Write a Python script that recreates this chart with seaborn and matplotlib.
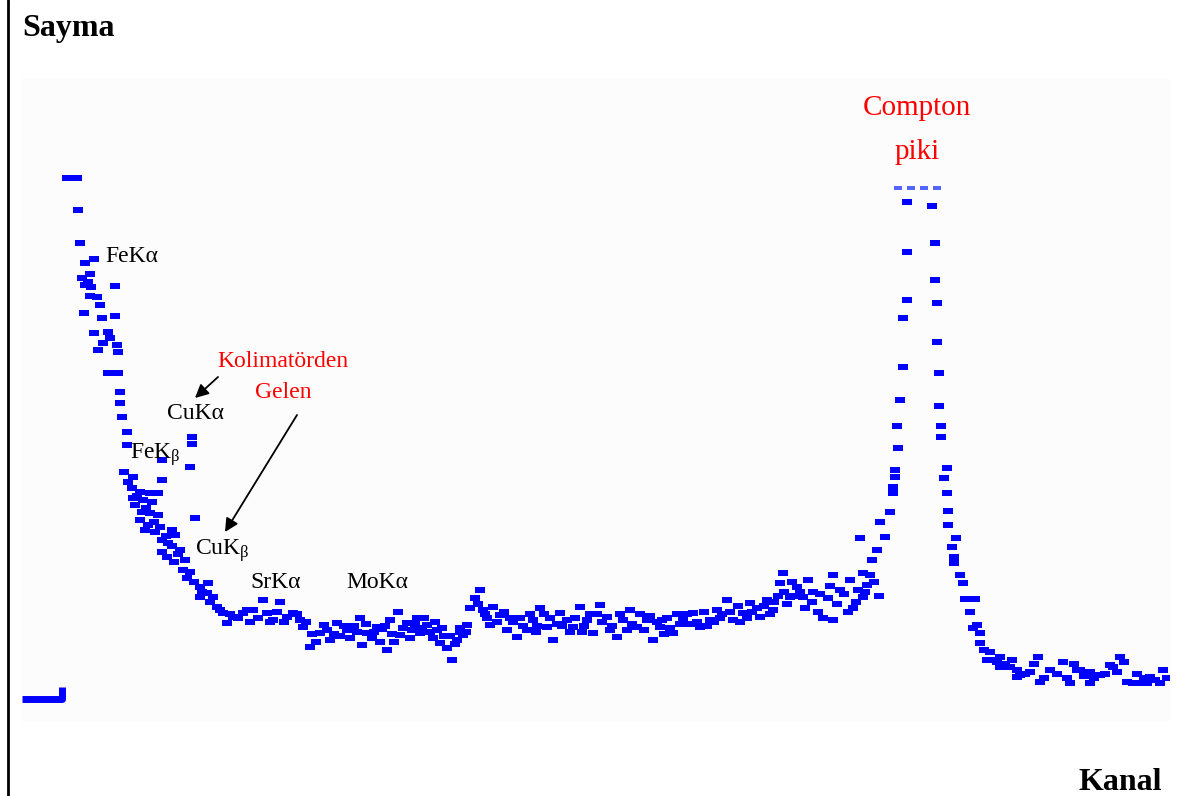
import matplotlib
matplotlib.use("Agg")
import matplotlib.pyplot as plt
from matplotlib.lines import Line2D
from matplotlib.markers import MarkerStyle
import pandas as pd
import seaborn as sns

# spectrum: channel vs count (arbitrary units)
low_channel = [45, 55, 56, 58, 63, 72, 60, 66, 68, 63, 69, 93, 68, 75, 78, 62, 80, 93, 72, 86,
               88, 81, 95, 76, 96, 86, 96, 98, 98, 100, 105, 105, 170, 170, 168, 140, 111, 140, 110, 118,
               128, 136, 111, 121, 130, 113, 120, 128, 136, 118, 126, 123, 133, 150, 153, 140, 146, 173, 140, 145,
               158, 163, 161, 165, 178, 186, 178, 191, 185, 195, 201, 211, 221, 231, 241, 258, 245, 255, 265, 271,
               278, 205, 228, 251,
               102, 106, 115, 124, 132, 138, 144, 150, 156, 152, 168, 172, 180, 188, 198, 208, 216, 225, 236, 248,
               262, 275]
low_count = [544, 544, 512, 479, 459, 463, 444, 440, 448, 437, 435, 436, 426, 425, 417, 409, 404, 406, 389, 390,
             384, 379, 377, 372, 370, 349, 349, 330, 319, 305, 290, 277, 285, 278, 255, 262, 245, 242, 234, 230,
             229, 229, 224, 222, 220, 217, 210, 209, 207, 202, 197, 192, 190, 192, 187, 182, 179, 204, 170, 165,
             172, 162, 152, 144, 135, 139, 125, 125, 129, 115, 109, 105, 109, 112, 122, 120, 109, 110, 105, 109,
             102, 99, 100, 102,
             250, 240, 226, 214, 200, 195, 186, 176, 168, 160, 150, 140, 130, 120, 112, 108, 104, 112, 104, 100,
             100, 108]

mid_channel = [281, 288, 298, 308, 315, 325, 338, 340, 345, 355, 365, 368, 376, 378, 385, 395, 398, 405, 411, 418,
               425, 430, 435, 441, 445, 448, 453, 458, 461, 465, 471, 478, 468, 485, 491, 495, 505, 511, 518, 525,
               531, 538, 545, 551, 558, 565, 571, 578, 585, 595, 601, 608, 615, 625, 631, 638, 645, 651, 661, 671,
               678, 688, 695, 705, 711, 721, 728, 738, 745, 751, 758, 761, 768, 775,
               290, 302, 318, 332, 350, 360, 372, 390, 402, 415, 422, 438, 482, 498, 515, 522, 535, 548, 562, 575,
               590, 605, 618, 635, 642, 655, 668, 682, 692, 700, 716, 725, 735, 748, 756, 765, 772,
               284, 294, 305, 312, 322, 328, 335, 344, 352, 358, 363, 370, 381, 388, 393, 400, 408, 413, 420, 428,
               433, 438, 444, 456, 463, 475, 488, 501, 508, 514, 528, 540, 553, 560, 568, 580, 588, 598, 610, 622,
               628, 640, 648, 658, 665, 675, 685, 698, 708, 718, 730, 742, 752, 762, 770, 778]
mid_count = [95, 75, 89, 82, 99, 92, 104, 77, 89, 95, 72, 102, 110, 87, 99, 104, 89, 97, 84, 79,
             74, 62, 82, 87, 97, 114, 124, 132, 112, 104, 115, 107, 97, 92, 100, 85, 92, 102, 114, 95,
             82, 109, 102, 95, 115, 102, 89, 117, 105, 85, 102, 112, 95, 102, 82, 95, 104, 89, 102, 109,
             95, 102, 112, 122, 102, 109, 119, 105, 122, 112, 139, 149, 125, 135,
             88, 97, 86, 96, 84, 93, 80, 92, 104, 92, 86, 90, 110, 104, 96, 108, 98, 90, 96, 108,
             96, 92, 108, 100, 88, 108, 98, 110, 100, 108, 116, 104, 114, 108, 126, 118, 126,
             100, 80, 92, 88, 96, 84, 90, 98, 90, 80, 96, 88, 94, 84, 98, 94, 90, 100, 94, 86,
             78, 94, 90, 118, 108, 100, 104, 96, 108, 90, 104, 96, 104, 90, 108, 100, 92, 108, 98, 92,
             106, 102, 94, 98, 108, 100, 96, 104, 110, 100, 110, 116, 120, 130, 140, 130]

peak_channel = [781, 786, 791, 783, 796, 801, 811, 806, 811, 818, 828, 831, 836, 841, 845, 841, 848, 838, 850, 855,
                858, 863, 868, 871, 871, 873, 873, 876, 875, 878, 881, 881, 885, 885, 885, 910, 913, 913, 915, 915,
                917, 917, 919, 919, 925, 922, 925, 926, 926, 934, 930, 932, 932, 938, 941, 943, 953, 948, 955, 951,
                958, 958, 965, 971, 978, 978, 988, 995, 995, 998, 1008, 1016, 1018, 1028, 1041, 1048, 1055, 1058, 1068, 1068,
                1078, 1088, 1091, 1098, 1105, 1111, 1118, 1125, 1128, 1138, 1141,
                790, 798, 808, 815, 822, 826, 834, 843, 852, 857,
                962, 968, 975, 983, 990, 1003, 1012, 1022, 1035, 1045, 1052, 1062, 1072, 1083, 1095, 1102, 1115, 1122, 1133, 1145]
peak_count = [125, 142, 130, 114, 110, 104, 102, 124, 147, 132, 142, 114, 132, 125, 137, 149, 147, 184, 162, 172,
              200, 185, 210, 229, 235, 245, 252, 274, 296, 322, 355, 404, 422, 470, 520, 516, 479, 442, 419, 380,
              349, 316, 296, 285, 254, 244, 229, 211, 197, 184, 175, 165, 159, 147, 139, 123, 123, 110, 97, 94,
              89, 79, 62, 62, 65, 55, 55, 52, 45, 47, 50, 65, 40, 52, 60, 39, 52, 52, 39, 50,
              47, 57, 55, 65, 40, 39, 39, 39, 45, 39, 52,
              120, 128, 136, 118, 128, 110, 120, 130, 140, 126,
              72, 70, 60, 58, 62, 48, 58, 44, 48, 44, 58, 46, 44, 48, 50, 60, 48, 44, 42, 44]

# clipped top of the Compton peak
clip_channel = [876, 889, 902, 915]
clip_count = [534, 534, 534, 534]

# first channels (below threshold)
step_channel = [0, 40, 40]
step_count = [23, 23, 35]

peak_labels = ["FeKα", "CuKα", "FeK$_{\\beta}$", "CuK$_{\\beta}$", "SrKα", "MoKα"]
label_channel = [83, 145, 108, 173, 228, 324]
label_count = [465, 309, 267, 171, 139, 139]

spectrum = pd.DataFrame({
    "channel": low_channel + mid_channel + peak_channel,
    "count": low_count + mid_count + peak_count,
})

sns.set_theme(style="white")
plt.rcParams["font.family"] = ["Liberation Serif", "DejaVu Serif"]
plt.rcParams["mathtext.fontset"] = "custom"
plt.rcParams["mathtext.rm"] = "Liberation Serif"
plt.rcParams["mathtext.it"] = "Liberation Serif"
plt.rcParams["text.color"] = "black"

fig = plt.figure(figsize=(11.84, 7.96), dpi=100)
ax = fig.add_axes([22 / 1184, 74 / 796, 1148 / 1184, 644 / 796])
ax.set_facecolor("#fcfcfc")

dash = MarkerStyle([(-1, -0.5), (1, -0.5), (1, 0.5), (-1, 0.5)])
sns.scatterplot(data=spectrum, x="channel", y="count", ax=ax, marker=dash, s=60,
                color="#0000ff", linewidth=0, edgecolor="none")
sns.scatterplot(x=clip_channel, y=clip_count, ax=ax, marker=dash, s=40,
                color="#5566ff", linewidth=0, edgecolor="none")
ax.plot(step_channel, step_count, color="#0000ff", lw=5, solid_capstyle="butt")

for lab, cx, cy in zip(peak_labels, label_channel, label_count):
    ax.text(cx, cy, lab, fontsize=17, color="black", ha="left", va="center")

ax.text(261, 361, "Kolimatörden", fontsize=17, color="red", ha="center", va="center")
ax.text(261, 330, "Gelen", fontsize=17, color="red", ha="center", va="center")
ax.text(895, 614, "Compton", fontsize=21, color="red", ha="center", va="center")
ax.text(895, 570, "piki", fontsize=21, color="red", ha="center", va="center")

arrow = dict(arrowstyle="-|>", color="black", lw=1.3, mutation_scale=20, shrinkA=0, shrinkB=0)
ax.annotate("", xy=(173, 324), xytext=(196, 345), arrowprops=arrow)
ax.annotate("", xy=(203, 190), xytext=(275, 307), arrowprops=arrow)

ax.set_xlim(0, 1148)
ax.set_ylim(0, 644)
ax.set_xticks([])
ax.set_yticks([])
ax.set_xlabel("")
ax.set_ylabel("")
for sp in ax.spines.values():
    sp.set_visible(False)

fig.add_artist(Line2D([8 / 1184, 8 / 1184], [0, 1], color="black", lw=2))
fig.text(22 / 1184, 1 - 36 / 796, "Sayma", fontsize=23, fontweight="bold", color="black", va="baseline")
fig.text(1162 / 1184, 6 / 796, "Kanal", fontsize=23, fontweight="bold", color="black",
         ha="right", va="baseline")

fig.savefig("out.png", dpi=100)
